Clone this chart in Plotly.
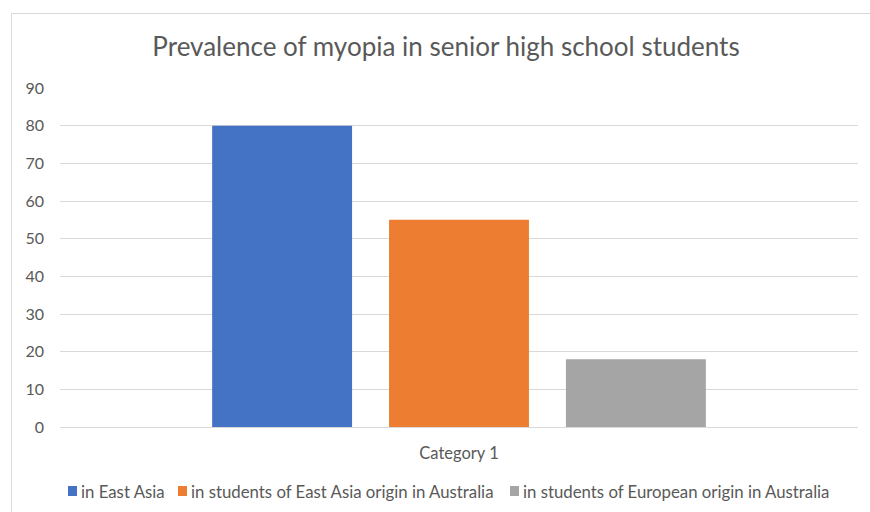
import plotly.graph_objects as go

categories = ["Category 1"]
series_names = [
    "in East Asia",
    "in students of East Asia origin in Australia",
    "in students of European origin in Australia",
]
series_values = [[80], [55], [18]]
series_colors = ["#4472C4", "#ED7D31", "#A5A5A5"]
y_ticks = [0, 10, 20, 30, 40, 50, 60, 70, 80, 90]

FONT = "Lato"
TEXT = "#595959"
GRID = "#D9D9D9"

fig = go.Figure()
for name, vals, col in zip(series_names, series_values, series_colors):
    fig.add_trace(go.Bar(x=categories, y=vals, name=name, marker_color=col,
                         marker_line_width=0, showlegend=False))

W, H = 870, 512
ml, mr, mt, mb = 60, 12, 88, 85
pw, ph = W - ml - mr, H - mt - mb


def px_x(p):
    return (p - ml) / pw


def px_y(p):
    return (H - mb - p) / ph


# Border of the chart area (top and left edges)
shapes = [
    dict(type="line", xref="paper", yref="paper",
         x0=px_x(11.5), x1=px_x(W + 5), y0=px_y(13.5), y1=px_y(13.5),
         line=dict(color=GRID, width=1)),
    dict(type="line", xref="paper", yref="paper",
         x0=px_x(11.5), x1=px_x(11.5), y0=px_y(13.5), y1=px_y(H + 5),
         line=dict(color=GRID, width=1)),
]

# Legend row below the axis: colour key + label per series
legend_keys = [68, 178, 510]
legend_y = 491
annotations = []
for name, col, kx in zip(series_names, series_colors, legend_keys):
    shapes.append(dict(type="rect", xref="paper", yref="paper",
                       x0=px_x(kx), x1=px_x(kx + 9),
                       y0=px_y(legend_y - 5), y1=px_y(legend_y + 5),
                       fillcolor=col, line=dict(width=0)))
    annotations.append(dict(text=name, xref="paper", yref="paper",
                            x=px_x(kx + 11), xanchor="left",
                            y=px_y(legend_y), yanchor="middle",
                            showarrow=False,
                            font=dict(family=FONT, size=16.8, color=TEXT)))

fig.update_layout(
    width=W, height=H,
    margin=dict(l=ml, r=mr, t=mt, b=mb, autoexpand=False),
    paper_bgcolor="white", plot_bgcolor="white",
    font=dict(family=FONT, color=TEXT, size=16),
    barmode="group", bargap=0.335, bargroupgap=0.209,
    title=dict(text="Prevalence of myopia in senior high school students",
               xref="container", x=446 / W, xanchor="center",
               y=1 - 47 / H, yanchor="middle",
               font=dict(family=FONT, size=26, color=TEXT)),
    showlegend=False,
    xaxis=dict(showgrid=False, showline=False, ticks="", ticklabelstandoff=14,
               tickfont=dict(family=FONT, size=16.5, color=TEXT)),
    yaxis=dict(range=[0, 90], tickvals=y_ticks, showgrid=True, gridcolor=GRID,
               gridwidth=1, zeroline=True, zerolinecolor=GRID, zerolinewidth=1,
               showline=False, ticks="", ticklabelstandoff=15,
               tickfont=dict(family=FONT, size=16, color=TEXT)),
    shapes=shapes,
    annotations=annotations,
)

fig.write_html("out.html")
